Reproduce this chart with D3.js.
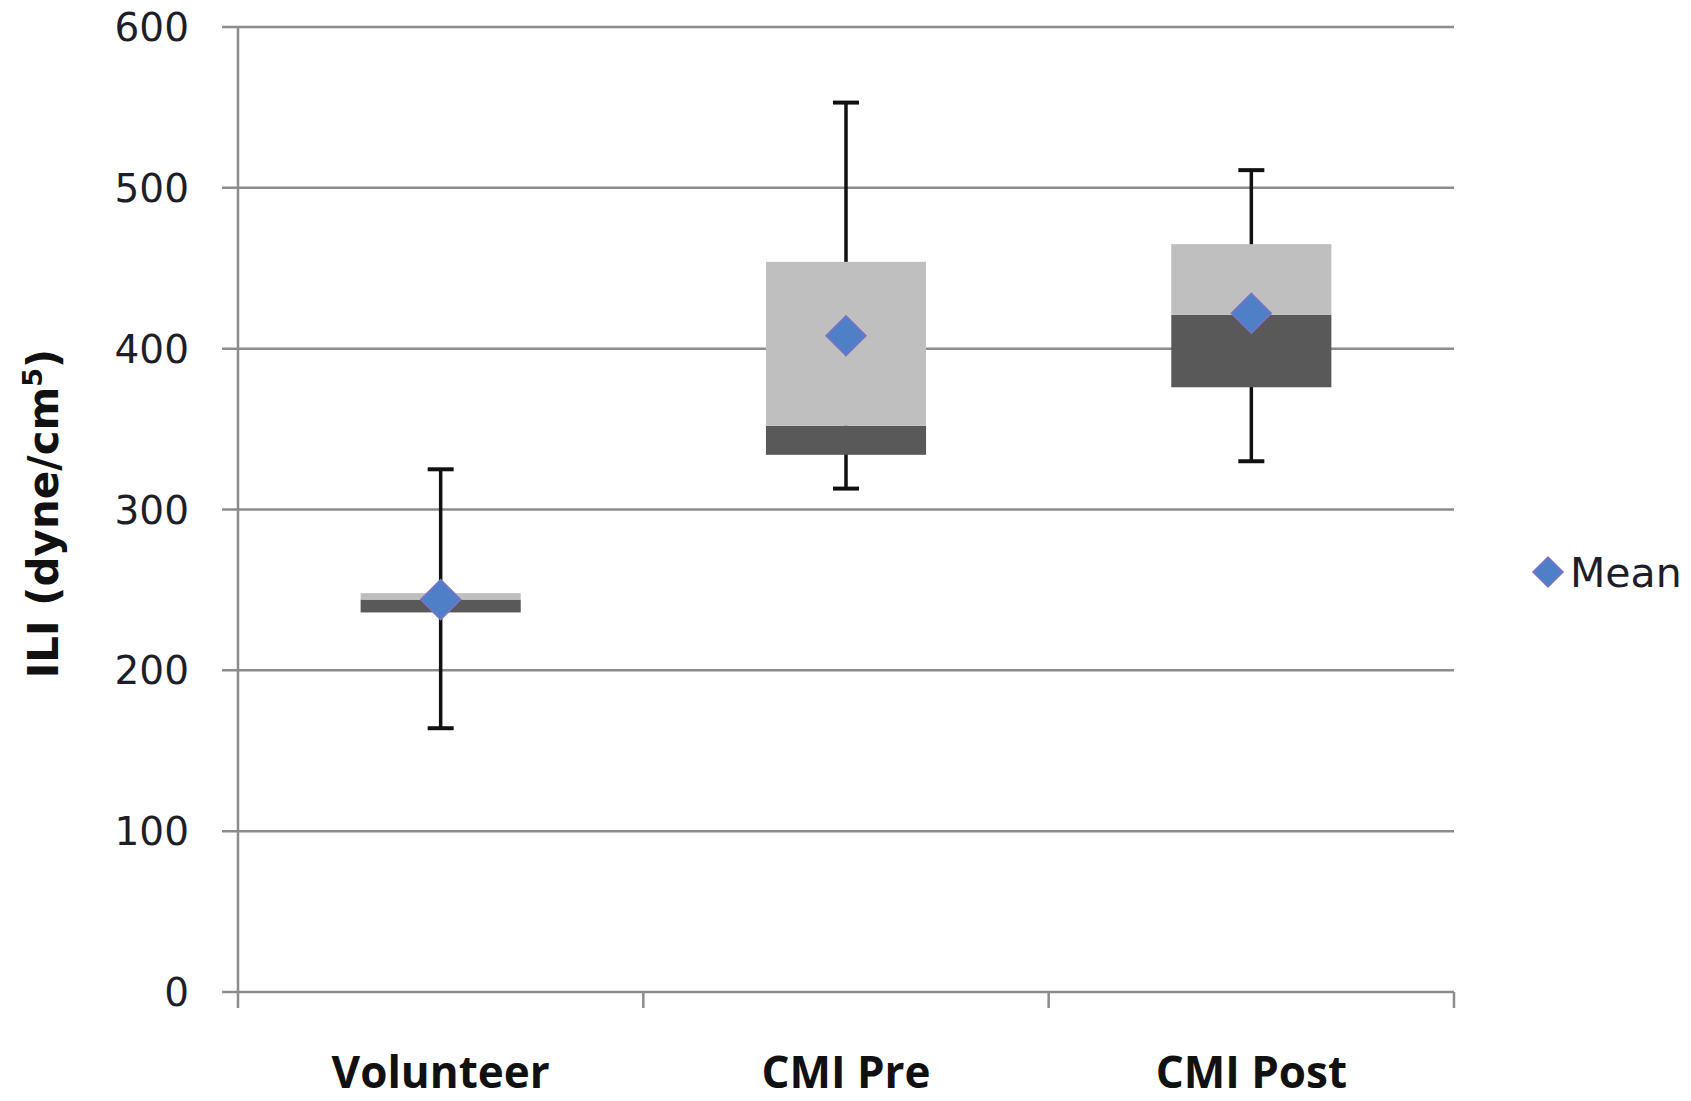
<!DOCTYPE html>
<html lang="en">
<head>
    <meta charset="UTF-8">
    <title>ILI box plot</title>
    <script src="https://d3js.org/d3.v7.min.js"></script>
    <style>
        body {
            margin: 0;
            background: #fff;
        }
        .tick-label {
            font-family: 'DejaVu Sans', sans-serif;
            font-size: 39px;
            fill: #1e1e28;
        }
        .cat-label {
            font-family: 'Open Sans', sans-serif;
            font-weight: bold;
            font-size: 44px;
            fill: #111;
        }
    </style>
</head>
<body>
<div id="chart"></div>
<script>
// data
const categories = ["Volunteer", "CMI Pre", "CMI Post"];
const minVals = [164, 313, 330];
const q1Vals = [236, 334, 376];
const medianVals = [244, 352, 421];
const q3Vals = [248, 454, 465];
const maxVals = [325, 553, 511];
const meanVals = [244, 408, 422];
const yTicks = [0, 100, 200, 300, 400, 500, 600];

const W = 1691, H = 1101;
const plot = {left: 238, right: 1454, top: 27, bottom: 992};

const svg = d3.select("#chart").append("svg")
    .attr("width", W)
    .attr("height", H);

const x = d3.scaleBand()
    .domain(categories)
    .range([plot.left, plot.right])
    .paddingInner(0.605)
    .paddingOuter(0.3025);

const y = d3.scaleLinear()
    .domain([0, 600])
    .range([plot.bottom, plot.top]);

const gridColor = "#8c8c8c";

// gridlines + y ticks
svg.append("g").selectAll("line")
    .data(yTicks)
    .enter().append("line")
    .attr("x1", plot.left - 16)
    .attr("x2", plot.right)
    .attr("y1", d => y(d))
    .attr("y2", d => y(d))
    .attr("stroke", gridColor)
    .attr("stroke-width", 2.5);

svg.append("g").selectAll("text")
    .data(yTicks)
    .enter().append("text")
    .attr("class", "tick-label")
    .attr("x", 189)
    .attr("y", d => y(d))
    .attr("dy", "0.36em")
    .attr("text-anchor", "end")
    .text(d => d);

// y axis line
svg.append("line")
    .attr("x1", plot.left).attr("x2", plot.left)
    .attr("y1", y(600)).attr("y2", plot.bottom + 16)
    .attr("stroke", gridColor)
    .attr("stroke-width", 2.5);

// category boundary ticks
const step = x.step();
const boundaries = d3.range(categories.length + 1).map(i => plot.left + i * step);
svg.append("g").selectAll("line")
    .data(boundaries.slice(1))
    .enter().append("line")
    .attr("x1", d => d).attr("x2", d => d)
    .attr("y1", plot.bottom).attr("y2", plot.bottom + 16)
    .attr("stroke", gridColor)
    .attr("stroke-width", 2.5);

// whiskers
const idx = d3.range(categories.length);
const cx = i => x(categories[i]) + x.bandwidth() / 2;
const whisk = svg.append("g").attr("stroke", "#111").attr("stroke-width", 3.5);
idx.forEach(i => {
    whisk.append("line")
        .attr("x1", cx(i)).attr("x2", cx(i))
        .attr("y1", y(maxVals[i])).attr("y2", y(minVals[i]));
    [maxVals[i], minVals[i]].forEach(v => {
        whisk.append("line")
            .attr("x1", cx(i) - 13).attr("x2", cx(i) + 13)
            .attr("y1", y(v)).attr("y2", y(v))
            .attr("stroke-width", 4);
    });
});

// boxes: dark Q1..median, light median..Q3
svg.append("g").selectAll("rect")
    .data(idx)
    .enter().append("rect")
    .attr("x", i => x(categories[i]))
    .attr("width", x.bandwidth())
    .attr("y", i => y(medianVals[i]))
    .attr("height", i => y(q1Vals[i]) - y(medianVals[i]))
    .attr("fill", "#595959");

svg.append("g").selectAll("rect")
    .data(idx)
    .enter().append("rect")
    .attr("x", i => x(categories[i]))
    .attr("width", x.bandwidth())
    .attr("y", i => y(q3Vals[i]))
    .attr("height", i => y(medianVals[i]) - y(q3Vals[i]))
    .attr("fill", "#bfbfbf");

// mean diamonds
const diamond = d3.symbol().type(d3.symbolSquare).size(800);
svg.append("g").selectAll("path")
    .data(idx)
    .enter().append("path")
    .attr("d", diamond)
    .attr("transform", i => `translate(${cx(i)},${y(meanVals[i])}) rotate(45)`)
    .attr("fill", "#4f7fc6")
    .attr("stroke", "#7e72c8")
    .attr("stroke-width", 1.5);

// category labels
svg.append("g").selectAll("text")
    .data(categories)
    .enter().append("text")
    .attr("class", "cat-label")
    .attr("x", d => x(d) + x.bandwidth() / 2)
    .attr("y", 1088)
    .attr("text-anchor", "middle")
    .text(d => d);

// y axis title
const yTitle = svg.append("text")
    .attr("transform", `translate(58,${(plot.top + plot.bottom) / 2 + 4}) rotate(-90)`)
    .attr("text-anchor", "middle")
    .attr("font-family", "'DejaVu Sans', sans-serif")
    .attr("font-weight", "bold")
    .attr("font-size", 42)
    .attr("fill", "#111");
yTitle.append("tspan").text("ILI (dyne/cm");
yTitle.append("tspan").attr("font-size", 27).attr("dy", -16).text("5");
yTitle.append("tspan").attr("dy", 16).text(")");

// legend
const legend = svg.append("g").attr("transform", "translate(1548,572)");
legend.append("path")
    .attr("d", d3.symbol().type(d3.symbolSquare).size(450))
    .attr("transform", "rotate(45)")
    .attr("fill", "#4f7fc6")
    .attr("stroke", "#7e72c8")
    .attr("stroke-width", 1.5);
legend.append("text")
    .attr("class", "tick-label")
    .attr("x", 22)
    .attr("dy", "0.36em")
    .style("font-size", "41px")
    .text("Mean");
</script>
</body>
</html>
